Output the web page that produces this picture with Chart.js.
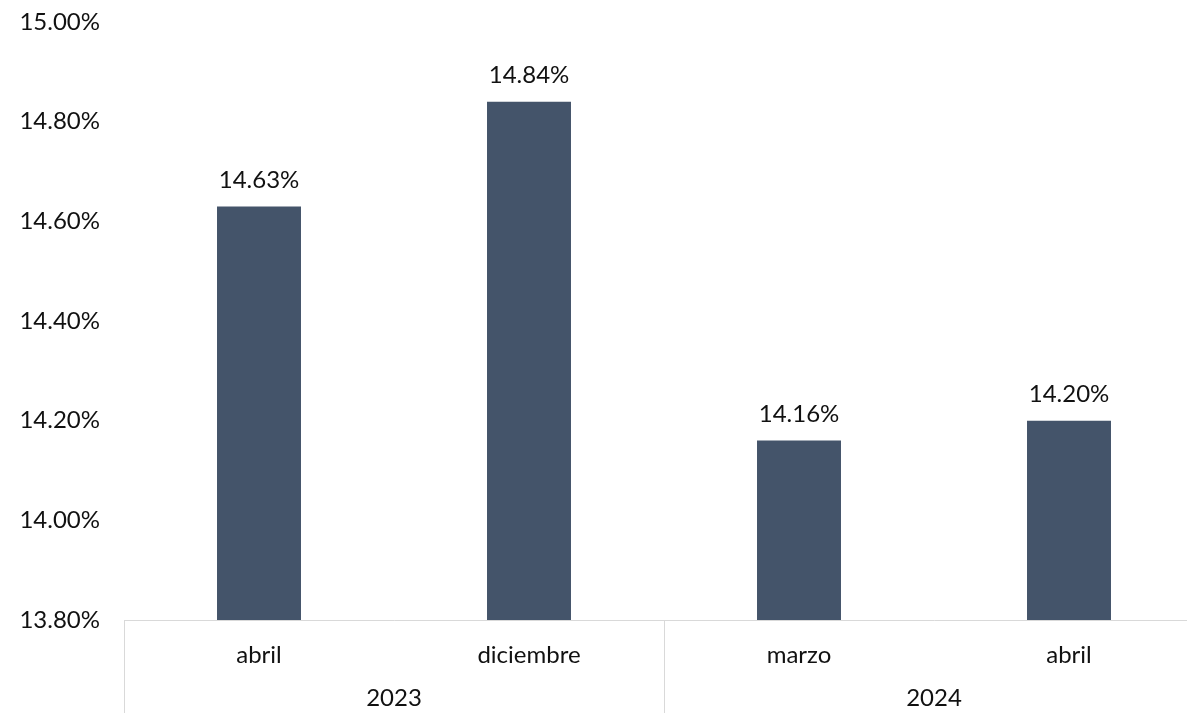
<!DOCTYPE html>
<html>
<head>
<meta charset="utf-8">
<script src="https://cdn.jsdelivr.net/npm/chart.js@4"></script>
<style>
html,body{margin:0;padding:0;background:#fff;overflow:hidden;}
#wrap{width:1204px;height:713px;}
</style>
</head>
<body>
<div id="wrap"><canvas id="c" width="1204" height="713"></canvas></div>
<script>
const categories = ['abril', 'diciembre', 'marzo', 'abril'];
const groups = ['2023', '2024'];
const groupSizes = [2, 2];
const values = [14.63, 14.84, 14.16, 14.20];
const yMin = 13.8, yMax = 15.0, yStep = 0.2;

const FONT = 'Lato, "Open Sans", sans-serif';
const FS = 24;
const TXT = '#111111';
const LINE = '#d9d9d9';

const groupAxis = {
  id: 'groupAxis',
  afterDraw(chart) {
    const ctx = chart.ctx, xs = chart.scales.x;
    const half = (xs.getPixelForValue(1) - xs.getPixelForValue(0)) / 2;
    const bottom = chart.height;
    ctx.save();
    ctx.strokeStyle = LINE; ctx.lineWidth = 1;
    ctx.fillStyle = TXT;
    ctx.font = FS + 'px ' + FONT;
    ctx.textAlign = 'center'; ctx.textBaseline = 'middle';
    let idx = 0;
    groups.forEach((g, i) => {
      const left = xs.getPixelForValue(idx) - half;
      const right = xs.getPixelForValue(idx + groupSizes[i] - 1) + half;
      [left, right].forEach(x => {
        const px = Math.round(x) + 0.5;
        ctx.beginPath(); ctx.moveTo(px, xs.top); ctx.lineTo(px, bottom); ctx.stroke();
      });
      ctx.fillText(g, (left + right) / 2, xs.top + 78);
      idx += groupSizes[i];
    });
    ctx.restore();
  }
};

const barLabels = {
  id: 'barLabels',
  afterDatasetsDraw(chart) {
    const ctx = chart.ctx;
    const meta = chart.getDatasetMeta(0);
    ctx.save();
    ctx.fillStyle = TXT;
    ctx.font = FS + 'px ' + FONT;
    ctx.textAlign = 'center'; ctx.textBaseline = 'middle';
    meta.data.forEach((bar, i) => {
      ctx.fillText(values[i].toFixed(2) + '%', bar.x, bar.y - 26);
    });
    ctx.restore();
  }
};

new Chart(document.getElementById('c'), {
  type: 'bar',
  data: {
    labels: categories,
    datasets: [{
      data: values,
      backgroundColor: '#44546a',
      borderWidth: 0,
      barPercentage: 0.311,
      categoryPercentage: 1.0
    }]
  },
  options: {
    responsive: false,
    animation: false,
    devicePixelRatio: 1,
    layout: { padding: { top: 22, right: 0, bottom: 0, left: 0 } },
    plugins: { legend: { display: false }, tooltip: { enabled: false } },
    scales: {
      x: {
        grid: { display: false, drawTicks: false },
        border: { display: true, color: LINE, width: 1 },
        ticks: { color: TXT, font: { family: FONT, size: FS }, padding: 21, maxRotation: 0 },
        afterFit(s) { s.height = 93; }
      },
      y: {
        min: yMin, max: yMax,
        grid: { display: false, drawTicks: true, tickLength: 24 },
        border: { display: false },
        ticks: {
          stepSize: yStep,
          color: TXT,
          font: { family: FONT, size: FS },
          padding: 0,
          callback: v => v.toFixed(2) + '%'
        },
        afterFit(s) { s.width = 124; }
      }
    }
  },
  plugins: [groupAxis, barLabels]
});
</script>
</body>
</html>
